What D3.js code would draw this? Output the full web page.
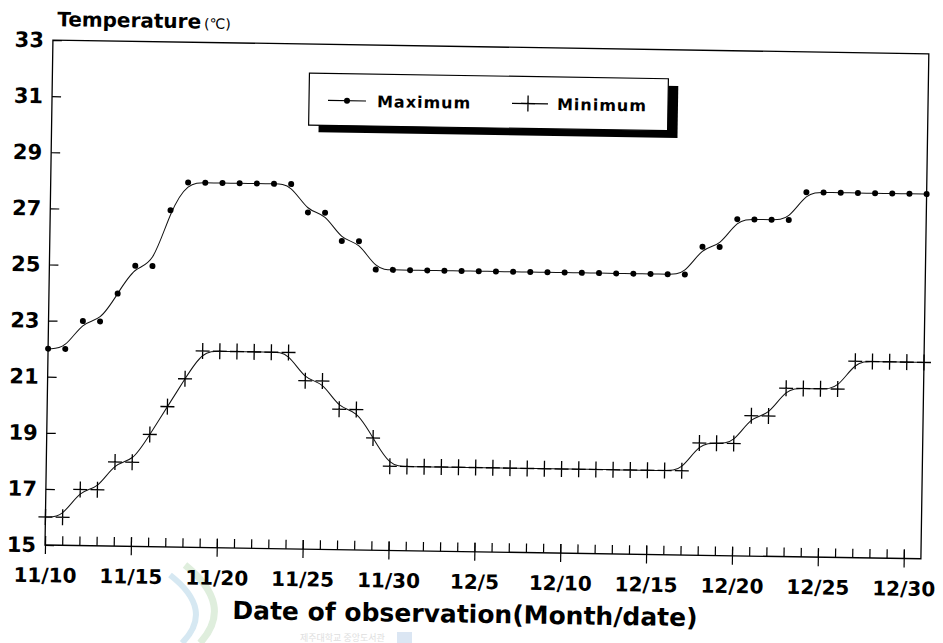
<!DOCTYPE html>
<html>
<head>
<meta charset="utf-8">
<script src="https://cdn.jsdelivr.net/npm/d3@7"></script>
<style>
  body { margin: 0; background: #fff; }
  svg { display: block; }
</style>
</head>
<body>
<div id="chart"></div>
<script>
// observation dates, 11/10 .. 12/31
const dates = ["11/10","11/11","11/12","11/13","11/14","11/15","11/16","11/17","11/18","11/19",
  "11/20","11/21","11/22","11/23","11/24","11/25","11/26","11/27","11/28","11/29",
  "11/30","12/1","12/2","12/3","12/4","12/5","12/6","12/7","12/8","12/9",
  "12/10","12/11","12/12","12/13","12/14","12/15","12/16","12/17","12/18","12/19",
  "12/20","12/21","12/22","12/23","12/24","12/25","12/26","12/27","12/28","12/29",
  "12/30","12/31"]

const maxTemp = [22,22,23,23,24,25,25,27,28,28,
  28,28,28,28,28,27,27,26,26,25,
  25,25,25,25,25,25,25,25,25,25,
  25,25,25,25,25,25,25,25,26,26,
  27,27,27,27,28,28,28,28,28,28,
  28,28]

const minTemp = [16,16,17,17,18,18,19,20,21,22,
  22,22,22,22,22,21,21,20,20,19,
  18,18,18,18,18,18,18,18,18,18,
  18,18,18,18,18,18,18,18,19,19,
  19,20,20,21,21,21,21,22,22,22,
  22,22]

const yTicks = [15,17,19,21,23,25,27,29,31,33]
const xLabelIdx = [0,5,10,15,20,25,30,35,40,45,50]

const width = 943, height = 643
const margin = ({ top: 40, right: 22, bottom: 98, left: 45 })

const svg = d3.create("svg")
  .attr("width", width)
  .attr("height", height)
  .attr("viewBox", [0, 0, width, height])

// faint library watermark at the bottom of the scan
const wm = svg.append("g")
wm.append("path")
  .attr("d", "M185,565 Q235,605 200,643")
  .attr("fill", "none").attr("stroke", "#dfeedd").attr("stroke-width", 7)
wm.append("path")
  .attr("d", "M170,575 Q215,610 182,643")
  .attr("fill", "none").attr("stroke", "#d6e8f2").attr("stroke-width", 6)
wm.append("rect")
  .attr("x", 397).attr("y", 632).attr("width", 15).attr("height", 11)
  .attr("fill", "#dbe6f3")
wm.append("text")
  .attr("x", 300).attr("y", 641)
  .attr("font-family", "Noto Sans CJK KR")
  .attr("font-size", 9)
  .attr("fill", "#dedede")
  .text("제주대학교 중앙도서관")

// the scanned figure sits slightly tilted
const g = svg.append("g")
  .attr("transform", `rotate(0.9, ${margin.left}, ${height - margin.bottom})`)

const x = d3.scaleLinear()
  .domain([0, dates.length - 1])
  .range([margin.left, width - margin.right])

const y = d3.scaleLinear()
  .domain([15, 33])
  .range([height - margin.bottom, margin.top])

// frame
g.append("rect")
  .attr("x", x(0)).attr("y", y(33))
  .attr("width", x(dates.length - 1) - x(0))
  .attr("height", y(15) - y(33))
  .attr("fill", "none")
  .attr("stroke", "#000")
  .attr("stroke-width", 1.3)

// y axis: inward ticks
g.append("g")
  .attr("transform", `translate(${x(0)},0)`)
  .call(d3.axisLeft(y).tickValues(yTicks).tickSizeInner(-9).tickSizeOuter(0).tickPadding(9))
  .call(g => g.select(".domain").remove())
  .call(g => g.selectAll(".tick line").attr("stroke", "#000").attr("stroke-width", 1.2))
  .call(g => g.selectAll("text")
    .attr("font-family", "DejaVu Sans")
    .attr("font-weight", "bold")
    .attr("font-size", 21)
    .attr("fill", "#000"))

// x axis: daily ticks upward, 5-day ticks through the axis with labels
g.append("g")
  .attr("transform", `translate(0,${y(15)})`)
  .call(d3.axisBottom(x).tickValues(d3.range(1, dates.length - 1)).tickSizeInner(-9).tickSizeOuter(0).tickFormat(""))
  .call(g => g.select(".domain").remove())
  .call(g => g.selectAll(".tick line").attr("stroke", "#000").attr("stroke-width", 1.2))

g.append("g")
  .attr("transform", `translate(0,${y(15)})`)
  .call(d3.axisBottom(x).tickValues(xLabelIdx).tickSizeInner(9).tickSizeOuter(0).tickPadding(14).tickFormat(i => dates[i]))
  .call(g => g.select(".domain").remove())
  .call(g => g.selectAll(".tick line").attr("stroke", "#000").attr("stroke-width", 1.2).attr("y1", -9))
  .call(g => g.selectAll("text")
    .attr("font-family", "DejaVu Sans")
    .attr("font-weight", "bold")
    .attr("font-size", 20)
    .attr("fill", "#000"))

// axis titles
const yt = g.append("text")
  .attr("x", 49)
  .attr("y", 26)
  .attr("font-family", "DejaVu Sans")
  .attr("font-weight", "bold")
  .attr("font-size", 20)
  .text("Temperature")
yt.append("tspan")
  .attr("font-size", 14)
  .attr("font-weight", "normal")
  .attr("dx", 3)
  .text("(℃)")

g.append("text")
  .attr("x", 466)
  .attr("y", 616)
  .attr("text-anchor", "middle")
  .attr("font-family", "DejaVu Sans")
  .attr("font-weight", "bold")
  .attr("font-size", 25)
  .text("Date of observation(Month/date)")

// smoothed lines
const line = d3.line()
  .x((d, i) => x(i))
  .y(d => y(d))
  .curve(d3.curveBasis)

g.append("path")
  .datum(maxTemp)
  .attr("fill", "none")
  .attr("stroke", "#111")
  .attr("stroke-width", 1)
  .attr("d", line)

g.append("path")
  .datum(minTemp)
  .attr("fill", "none")
  .attr("stroke", "#111")
  .attr("stroke-width", 1)
  .attr("d", line)

// markers
g.append("g")
  .selectAll("circle")
  .data(maxTemp)
  .join("circle")
  .attr("cx", (d, i) => x(i))
  .attr("cy", d => y(d))
  .attr("r", 3)
  .attr("fill", "#000")

const cross = "M-7,0H7M0,-8V8"
g.append("g")
  .selectAll("path")
  .data(minTemp)
  .join("path")
  .attr("transform", (d, i) => `translate(${x(i)},${y(d)})`)
  .attr("d", cross)
  .attr("stroke", "#000")
  .attr("stroke-width", 1.3)
  .attr("fill", "none")

// legend with drop shadow
const lg = g.append("g")
lg.append("rect")
  .attr("x", 312).attr("y", 76).attr("width", 359).attr("height", 52)
  .attr("fill", "#000")
lg.append("rect")
  .attr("x", 302).attr("y", 69).attr("width", 359).attr("height", 52)
  .attr("fill", "#fff")
  .attr("stroke", "#000")
  .attr("stroke-width", 1.2)

lg.append("line")
  .attr("x1", 321).attr("x2", 359).attr("y1", 96).attr("y2", 96)
  .attr("stroke", "#000").attr("stroke-width", 1.2)
lg.append("circle")
  .attr("cx", 340).attr("cy", 96).attr("r", 3).attr("fill", "#000")
lg.append("line")
  .attr("x1", 505).attr("x2", 541).attr("y1", 96).attr("y2", 96)
  .attr("stroke", "#000").attr("stroke-width", 1.2)
lg.append("path")
  .attr("transform", "translate(521,96)")
  .attr("d", cross)
  .attr("stroke", "#000").attr("stroke-width", 1.3)

lg.selectAll("text")
  .data([{ t: "Maximum", x: 370 }, { t: "Minimum", x: 550 }])
  .join("text")
  .attr("x", d => d.x)
  .attr("y", 102)
  .attr("font-family", "DejaVu Sans")
  .attr("font-weight", "bold")
  .attr("font-size", 16)
  .attr("letter-spacing", 1)
  .text(d => d.t)

d3.select("#chart").node().append(svg.node())
</script>
</body>
</html>
